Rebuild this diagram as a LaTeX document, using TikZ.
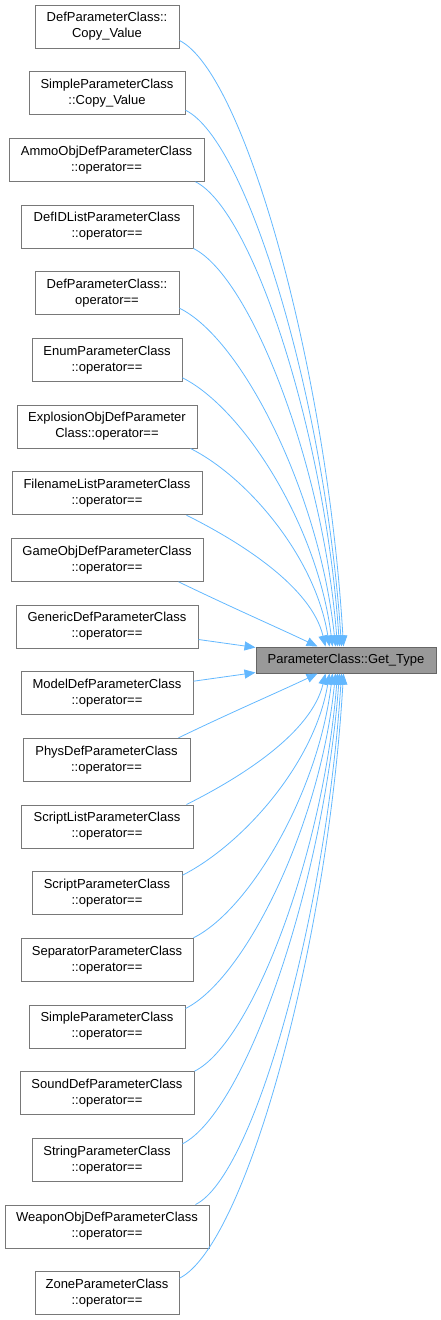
\documentclass[tikz,border=0pt]{standalone}
\usepackage{fontspec}
\setmainfont{Liberation Sans}
\usetikzlibrary{arrows.meta}
\definecolor{edgeblue}{RGB}{99,184,255}
\definecolor{boxborder}{RGB}{120,120,120}
\definecolor{tgtfill}{RGB}{153,153,153}
\definecolor{tgtborder}{RGB}{102,102,102}
\begin{document}
\begin{tikzpicture}[x=1pt,y=1pt,
  box/.style={draw=boxborder, fill=white, line width=1pt, minimum height=43pt, inner sep=0pt, align=center, font=\fontsize{13}{16}\selectfont},
  tgt/.style={draw=tgtborder, fill=tgtfill, line width=1pt, minimum width=180pt, minimum height=26pt, inner sep=0pt, font=\fontsize{13}{16}\selectfont},
  edge/.style={draw=edgeblue, line width=0.8pt, -{Triangle[length=11pt,width=9pt,fill=edgeblue]}}]
\useasboundingbox (0,0) rectangle (441,-1320);
\node[box, minimum width=144pt] (n1) at (107,-26.5) {DefParameterClass::\\Copy\_Value};
\node[box, minimum width=156pt] (n2) at (107,-93.2) {SimpleParameterClass\\::Copy\_Value};
\node[box, minimum width=195pt] (n3) at (106.5,-159.8) {AmmoObjDefParameterClass\\::operator==};
\node[box, minimum width=172pt] (n4) at (107,-226.5) {DefIDListParameterClass\\::operator==};
\node[box, minimum width=144pt] (n5) at (107,-293.2) {DefParameterClass::\\operator==};
\node[box, minimum width=150pt] (n6) at (107,-359.8) {EnumParameterClass\\::operator==};
\node[box, minimum width=180pt] (n7) at (107,-426.5) {ExplosionObjDefParameter\\Class::operator==};
\node[box, minimum width=190pt] (n8) at (107,-493.2) {FilenameListParameterClass\\::operator==};
\node[box, minimum width=192pt] (n9) at (107,-559.8) {GameObjDefParameterClass\\::operator==};
\node[box, minimum width=182pt] (n10) at (107,-626.5) {GenericDefParameterClass\\::operator==};
\node[tgt] (t) at (346,-660) {ParameterClass::Get\_Type};
\node[box, minimum width=172pt] (n12) at (107,-693.2) {ModelDefParameterClass\\::operator==};
\node[box, minimum width=167pt] (n13) at (106.5,-759.8) {PhysDefParameterClass\\::operator==};
\node[box, minimum width=172pt] (n14) at (107,-826.5) {ScriptListParameterClass\\::operator==};
\node[box, minimum width=150pt] (n15) at (107,-893.2) {ScriptParameterClass\\::operator==};
\node[box, minimum width=172pt] (n16) at (107,-959.8) {SeparatorParameterClass\\::operator==};
\node[box, minimum width=156pt] (n17) at (107,-1026.5) {SimpleParameterClass\\::operator==};
\node[box, minimum width=174pt] (n18) at (107,-1093.2) {SoundDefParameterClass\\::operator==};
\node[box, minimum width=150pt] (n19) at (107,-1159.8) {StringParameterClass\\::operator==};
\node[box, minimum width=204pt] (n20) at (107,-1226.5) {WeaponObjDefParameterClass\\::operator==};
\node[box, minimum width=144pt] (n21) at (107,-1293.2) {ZoneParameterClass\\::operator==};
% top edges
\draw[edge] ([yshift=8pt]n1.south east) .. controls +(66,-33) and +(-16,273) .. ([xshift=88pt]t.north west);
\draw[edge] ([yshift=5pt]n2.south east) .. controls +(63,-31) and +(-16,242) .. ([xshift=86pt]t.north west);
\draw[edge] ([xshift=-9pt]n3.south east) .. controls +(58,-29) and +(-14,210) .. ([xshift=84pt]t.north west);
\draw[edge] (n4.south east) .. controls +(58,-29) and +(-14,180) .. ([xshift=82pt]t.north west);
\draw[edge] ([yshift=7pt]n5.south east) .. controls +(63,-31) and +(-16,153) .. ([xshift=80pt]t.north west);
\draw[edge] ([yshift=4pt]n6.south east) .. controls +(60,-30) and +(-15,122) .. ([xshift=77pt]t.north west);
\draw[edge] ([xshift=-7pt]n7.south east) .. controls +(56,-28) and +(-14,90) .. ([xshift=74pt]t.north west);
\draw[edge] ([xshift=-16pt]n8.south east) .. controls +(56,-28) and +(-14,59) .. ([xshift=70pt]t.north west);
\draw[edge] ([xshift=-25pt]n9.south east) .. controls +(56,-27) and +(-40,19) .. ([xshift=62pt]t.north west);
\draw[edge] ([yshift=9pt]n10.south east) -- ([yshift=-1pt]t.north west);
\draw[edge] ([yshift=-10pt]n12.north east) -- ([yshift=1pt]t.south west);
% bottom edges
\draw[edge] ([xshift=-12pt]n13.north east) .. controls +(56,27) and +(-40,-19) .. ([xshift=62pt]t.south west);
\draw[edge] ([xshift=-7pt]n14.north east) .. controls +(56,28) and +(-14,-59) .. ([xshift=70pt]t.south west);
\draw[edge] ([yshift=-4pt]n15.north east) .. controls +(59,30) and +(-15,-91) .. ([xshift=74pt]t.south west);
\draw[edge] (n16.north east) .. controls +(56,28) and +(-14,-119) .. ([xshift=77pt]t.south west);
\draw[edge] ([yshift=-4pt]n17.north east) .. controls +(60,30) and +(-15,-151) .. ([xshift=80pt]t.south west);
\draw[edge] (n18.north east) .. controls +(58,29) and +(-14,-179) .. ([xshift=82pt]t.south west);
\draw[edge] ([yshift=-6pt]n19.north east) .. controls +(63,32) and +(-16,-212) .. ([xshift=84pt]t.south west);
\draw[edge] ([xshift=-14pt]n20.north east) .. controls +(59,29) and +(-15,-239) .. ([xshift=86pt]t.south west);
\draw[edge] ([yshift=-7pt]n21.north east) .. controls +(66,33) and +(-16,-273) .. ([xshift=88pt]t.south west);
\end{tikzpicture}
\end{document}
